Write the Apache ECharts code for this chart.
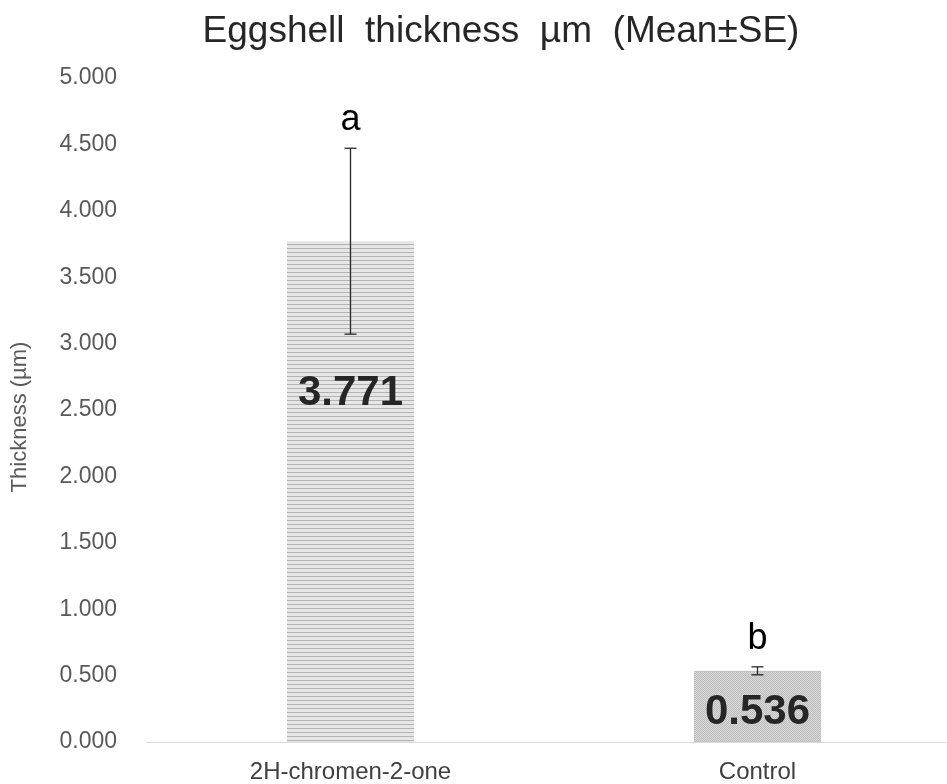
<!DOCTYPE html>
<html>
<head>
<meta charset="utf-8">
<script src="https://cdn.jsdelivr.net/npm/echarts@6/dist/echarts.min.js"></script>
<style>
  html, body { margin: 0; padding: 0; background: #fff; }
  #chart { width: 947px; height: 784px; }
</style>
</head>
<body>
<div id="chart"></div>
<script>
const categories = ['2H-chromen-2-one', 'Control'];
const means = [3.771, 0.536];
const errors = [0.70, 0.03];
const letters = ['a', 'b'];
const yTicks = [0, 0.5, 1, 1.5, 2, 2.5, 3, 3.5, 4, 4.5, 5];

// striped fill for the first bar
const makeStripes = () => {
  const c = document.createElement('canvas');
  c.width = 8; c.height = 4;
  const ctx = c.getContext('2d');
  ctx.fillStyle = '#e6e6e6';
  ctx.fillRect(0, 0, 8, 4);
  ctx.fillStyle = '#b3b3b3';
  ctx.fillRect(0, 0, 8, 1);
  return c;
};
// dotted fill for the control bar
const makeDots = () => {
  const c = document.createElement('canvas');
  c.width = 2; c.height = 2;
  const ctx = c.getContext('2d');
  ctx.fillStyle = '#d9d9d9';
  ctx.fillRect(0, 0, 2, 2);
  ctx.fillStyle = '#bdbdbd';
  ctx.fillRect(0, 0, 1, 1);
  ctx.fillRect(1, 1, 1, 1);
  return c;
};

const font = 'Arial, Liberation Sans';
const chart = echarts.init(document.getElementById('chart'));

const option = {
  animation: false,
  title: {
    text: 'Eggshell  thickness  µm  (Mean±SE)',
    left: 496,
    textAlign: 'center',
    top: 8,
    textStyle: { fontFamily: font, fontSize: 37, fontWeight: 'normal', color: '#262626' }
  },
  grid: { left: 147, right: -14, top: 78, bottom: 42, outerBoundsMode: 'none' },
  xAxis: {
    type: 'category',
    data: categories,
    axisTick: { show: false },
    axisLine: { lineStyle: { color: '#d9d9d9', width: 1 } },
    axisLabel: { fontFamily: font, fontSize: 24, color: '#404040', margin: 18 }
  },
  yAxis: {
    type: 'value',
    min: yTicks[0],
    max: yTicks[yTicks.length - 1],
    interval: 0.5,
    name: 'Thickness (µm)',
    nameLocation: 'middle',
    nameRotate: 90,
    nameGap: 116,
    nameTextStyle: { fontFamily: font, fontSize: 22, color: '#595959', padding: [0, 14, 0, 0] },
    splitLine: { show: false },
    axisLine: { show: false },
    axisTick: { show: false },
    axisLabel: {
      fontFamily: font, fontSize: 23, color: '#595959', margin: 30,
      formatter: v => v.toFixed(3)
    }
  },
  series: [
    {
      type: 'bar',
      barWidth: 127,
      data: [
        {
          value: means[0],
          itemStyle: { color: { image: makeStripes(), repeat: 'repeat' } },
          label: { position: 'insideTop', distance: 131 }
        },
        {
          value: means[1],
          itemStyle: { color: { image: makeDots(), repeat: 'repeat' }, borderColor: '#a6a6a6', borderWidth: 1, borderType: 'dotted' },
          label: { position: 'insideTop', distance: 21 }
        }
      ],
      label: {
        show: true,
        formatter: p => p.value.toFixed(3),
        fontFamily: font,
        fontSize: 42,
        fontWeight: 'bold',
        color: '#262626'
      }
    },
    {
      type: 'custom',
      data: means.map((m, i) => [i, m - errors[i], m + errors[i], letters[i]]),
      renderItem: (params, api) => {
        const x = api.coord([api.value(0), 0])[0];
        const lo = api.coord([api.value(0), api.value(1)])[1];
        const hi = api.coord([api.value(0), api.value(2)])[1];
        const cap = 6;
        const st = { stroke: '#262626', lineWidth: 1.3 };
        return {
          type: 'group',
          children: [
            { type: 'line', shape: { x1: x, y1: lo, x2: x, y2: hi }, style: st },
            { type: 'line', shape: { x1: x - cap, y1: hi, x2: x + cap, y2: hi }, style: st },
            { type: 'line', shape: { x1: x - cap, y1: lo, x2: x + cap, y2: lo }, style: st },
            {
              type: 'text',
              style: {
                text: api.value(3), x: x, y: hi - 10,
                textAlign: 'center', textVerticalAlign: 'bottom',
                fontFamily: font, fontSize: 36, fill: '#000'
              }
            }
          ]
        };
      },
      z: 5
    }
  ]
};

chart.setOption(option);
</script>
</body>
</html>
